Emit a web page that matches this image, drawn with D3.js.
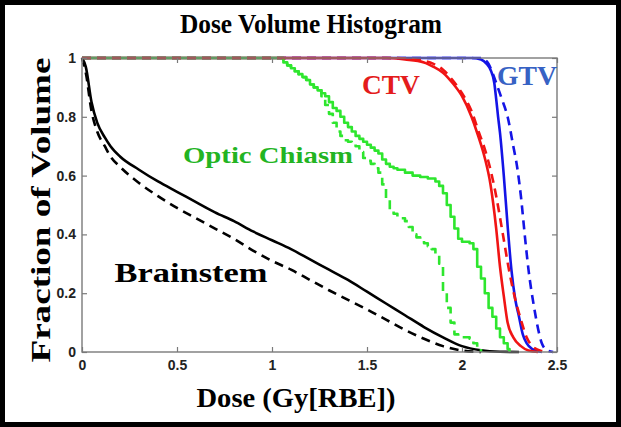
<!DOCTYPE html>
<html><head><meta charset="utf-8">
<script src="https://cdn.jsdelivr.net/npm/d3@7"></script>
<style>body{margin:0;background:#fff}svg{display:block}</style>
</head><body>
<svg id="chart" width="621" height="427"></svg>
<script>
// ---- data ----
const xTicks = [0, 0.5, 1, 1.5, 2, 2.5];
const yTicks = [0, 0.2, 0.4, 0.6, 0.8, 1];
const xTickLabels = ["0", "0.5", "1", "1.5", "2", "2.5"];
const yTickLabels = ["0", "0.2", "0.4", "0.6", "0.8", "1"];

const brainstemSolid = [[0,1],[0.02,0.97],[0.05,0.85],[0.08,0.78],[0.12,0.73],[0.15,0.70],[0.2,0.665],[0.3,0.62],[0.4,0.58],[0.5,0.545],[0.6,0.51],[0.7,0.475],[0.8,0.445],[0.9,0.41],[1.0,0.38],[1.1,0.35],[1.2,0.315],[1.3,0.28],[1.4,0.245],[1.5,0.205],[1.6,0.165],[1.7,0.125],[1.8,0.085],[1.9,0.05],[2.0,0.02],[2.1,0.006],[2.2,0.001],[2.3,0]];
const brainstemDashed = [[0,1],[0.02,0.95],[0.05,0.82],[0.08,0.75],[0.12,0.70],[0.15,0.665],[0.2,0.63],[0.3,0.575],[0.4,0.53],[0.5,0.49],[0.6,0.455],[0.7,0.42],[0.8,0.385],[0.9,0.345],[1.0,0.31],[1.1,0.28],[1.2,0.245],[1.3,0.21],[1.4,0.177],[1.5,0.145],[1.6,0.11],[1.7,0.075],[1.8,0.045],[1.9,0.02],[2.0,0.005],[2.1,0]];
const chiasmSolid = [[0,1],[1.04,1],[1.06,0.985],[1.08,0.975],[1.10,0.965],[1.12,0.955],[1.14,0.945],[1.16,0.935],[1.18,0.925],[1.20,0.91],[1.22,0.90],[1.24,0.89],[1.26,0.88],[1.28,0.87],[1.30,0.85],[1.32,0.83],[1.34,0.82],[1.36,0.80],[1.38,0.78],[1.40,0.765],[1.42,0.75],[1.44,0.735],[1.46,0.725],[1.48,0.715],[1.50,0.705],[1.52,0.695],[1.54,0.685],[1.56,0.675],[1.58,0.655],[1.60,0.64],[1.62,0.63],[1.64,0.625],[1.66,0.62],[1.70,0.61],[1.74,0.60],[1.78,0.595],[1.82,0.59],[1.86,0.58],[1.88,0.565],[1.90,0.54],[1.92,0.50],[1.94,0.46],[1.96,0.42],[1.98,0.385],[2.00,0.375],[2.04,0.37],[2.06,0.35],[2.08,0.29],[2.10,0.25],[2.12,0.20],[2.14,0.15],[2.16,0.12],[2.18,0.08],[2.20,0.05],[2.22,0.03],[2.24,0.01],[2.25,0]];
const chiasmDashed = [[0,1],[1.04,1],[1.06,0.985],[1.08,0.975],[1.10,0.965],[1.12,0.955],[1.14,0.945],[1.16,0.935],[1.18,0.925],[1.20,0.91],[1.22,0.90],[1.24,0.89],[1.26,0.87],[1.28,0.84],[1.30,0.81],[1.32,0.78],[1.34,0.75],[1.36,0.735],[1.38,0.72],[1.40,0.715],[1.42,0.71],[1.44,0.70],[1.46,0.68],[1.48,0.66],[1.50,0.65],[1.52,0.64],[1.54,0.625],[1.56,0.61],[1.58,0.57],[1.60,0.52],[1.62,0.48],[1.64,0.47],[1.66,0.46],[1.68,0.455],[1.70,0.445],[1.72,0.425],[1.74,0.40],[1.76,0.39],[1.78,0.38],[1.80,0.37],[1.82,0.36],[1.84,0.35],[1.86,0.33],[1.88,0.30],[1.90,0.20],[1.92,0.15],[1.94,0.10],[1.96,0.06],[1.98,0.05],[2.04,0.045],[2.06,0.03],[2.08,0.015],[2.10,0]];
const ctvSolid = [[0,1],[1.6,1],[1.7,0.995],[1.8,0.985],[1.85,0.97],[1.9,0.95],[1.95,0.915],[2.0,0.87],[2.05,0.80],[2.08,0.745],[2.12,0.66],[2.15,0.57],[2.18,0.42],[2.2,0.29],[2.22,0.19],[2.24,0.10],[2.27,0.05],[2.31,0.02],[2.35,0.005],[2.4,0]];
const ctvDashed = [[0,1],[1.65,1],[1.75,0.995],[1.85,0.98],[1.9,0.96],[1.95,0.925],[2.0,0.88],[2.05,0.82],[2.09,0.745],[2.12,0.69],[2.15,0.62],[2.18,0.53],[2.21,0.42],[2.25,0.27],[2.28,0.18],[2.31,0.11],[2.34,0.05],[2.37,0.02],[2.42,0.003],[2.45,0]];
const gtvSolid = [[0,1],[2.05,1],[2.1,0.995],[2.13,0.98],[2.15,0.96],[2.17,0.915],[2.18,0.86],[2.19,0.80],[2.2,0.745],[2.22,0.60],[2.24,0.43],[2.26,0.28],[2.28,0.18],[2.3,0.12],[2.32,0.06],[2.34,0.03],[2.37,0.01],[2.42,0]];
const gtvDashed = [[0,1],[2.1,1],[2.14,0.98],[2.16,0.95],[2.18,0.915],[2.21,0.86],[2.24,0.80],[2.27,0.70],[2.29,0.63],[2.31,0.53],[2.33,0.40],[2.35,0.28],[2.38,0.15],[2.4,0.08],[2.42,0.03],[2.45,0.005],[2.48,0]];

// ---- layout ----
const svg = d3.select("#chart");
const L = 82, R = 557, T = 58, B = 352;
const x = d3.scaleLinear().domain([0, 2.5]).range([L, R]);
const y = d3.scaleLinear().domain([0, 1]).range([B, T]);

svg.append("rect").attr("width", 621).attr("height", 427).attr("fill", "#fff");

const series = [
  {d: brainstemSolid, c: "#000000", dash: null, curve: d3.curveMonotoneX},
  {d: gtvSolid, c: "#1414e6", dash: null, curve: d3.curveMonotoneX},
  {d: ctvSolid, c: "#f01414", dash: null, curve: d3.curveMonotoneX},
  {d: chiasmSolid, c: "#2ee62e", dash: null, curve: d3.curveStepAfter},
  {d: brainstemDashed, c: "#000000", dash: "9,6", curve: d3.curveMonotoneX},
  {d: gtvDashed, c: "#1414e6", dash: "9,6", curve: d3.curveMonotoneX},
  {d: chiasmDashed, c: "#2ee62e", dash: "9,6", curve: d3.curveStepAfter},
  {d: ctvDashed, c: "#f01414", dash: "9,6", curve: d3.curveMonotoneX}
];
const plot = svg.append("g");
series.forEach(s => {
  const line = d3.line().x(p => x(p[0])).y(p => y(p[1])).curve(s.curve);
  plot.append("path").attr("d", line(s.d)).attr("fill", "none")
    .attr("stroke", s.c).attr("stroke-width", 2.6)
    .attr("stroke-dasharray", s.dash).attr("stroke-linejoin", "round");
});

// axes (ticks inward, MATLAB box)
const axColor = "#7a7a7a";
function styleAxis(g) {
  g.select(".domain").remove();
  g.selectAll(".tick line").attr("stroke", axColor).attr("stroke-width", 1.2);
  g.selectAll(".tick text").attr("fill", "#222").attr("font-family", "Liberation Sans, Arial, sans-serif")
    .attr("font-weight", "bold").attr("font-size", 14);
}
svg.append("g").attr("transform", `translate(0,${B})`)
  .call(d3.axisBottom(x).tickValues(xTicks).tickFormat((d,i) => xTickLabels[i]).tickSizeInner(-5).tickSizeOuter(0).tickPadding(8))
  .call(styleAxis);
svg.append("g").attr("transform", `translate(${L},0)`)
  .call(d3.axisLeft(y).tickValues(yTicks).tickFormat((d,i) => yTickLabels[i]).tickSizeInner(-5).tickSizeOuter(0).tickPadding(6))
  .call(styleAxis);
svg.append("g").attr("transform", `translate(0,${T})`)
  .call(d3.axisTop(x).tickValues(xTicks).tickFormat("").tickSizeInner(-5).tickSizeOuter(0))
  .call(styleAxis);
svg.append("g").attr("transform", `translate(${R},0)`)
  .call(d3.axisRight(y).tickValues(yTicks).tickFormat("").tickSizeInner(-5).tickSizeOuter(0))
  .call(styleAxis);
svg.append("rect").attr("x", L).attr("y", T).attr("width", R - L).attr("height", B - T)
  .attr("fill", "none").attr("stroke", axColor).attr("stroke-width", 1.4);

// texts
const serif = "Liberation Serif, Times New Roman, serif";
function label(tx, ty, str, size, len, color, rot) {
  const t = svg.append("text").attr("x", tx).attr("y", ty).attr("text-anchor", "middle")
    .attr("font-family", serif).attr("font-weight", "bold").attr("font-size", size)
    .attr("fill", color).attr("textLength", len).attr("lengthAdjust", "spacingAndGlyphs").text(str);
  if (rot) t.attr("transform", `rotate(-90,${tx},${ty})`);
  return t;
}
label(311, 33, "Dose Volume Histogram", 27, 262, "#000");
label(296, 407, "Dose (Gy[RBE])", 28, 199, "#000");
label(50, 210, "Fraction of Volume", 28, 305, "#000", true);
label(x(1.626), y(0.877), "CTV", 27, 58, "#e41c1c");
label(x(2.342), y(0.908), "GTV", 27, 60, "#3762c4");
label(x(0.979), y(0.643), "Optic Chiasm", 24, 170, "#22b422");
label(x(0.574), y(0.238), "Brainstem", 27, 153, "#000");

// outer frame
svg.append("rect").attr("x", 2.5).attr("y", 2.5).attr("width", 616).attr("height", 422)
  .attr("fill", "none").attr("stroke", "#000").attr("stroke-width", 5);
</script>
</body></html>
